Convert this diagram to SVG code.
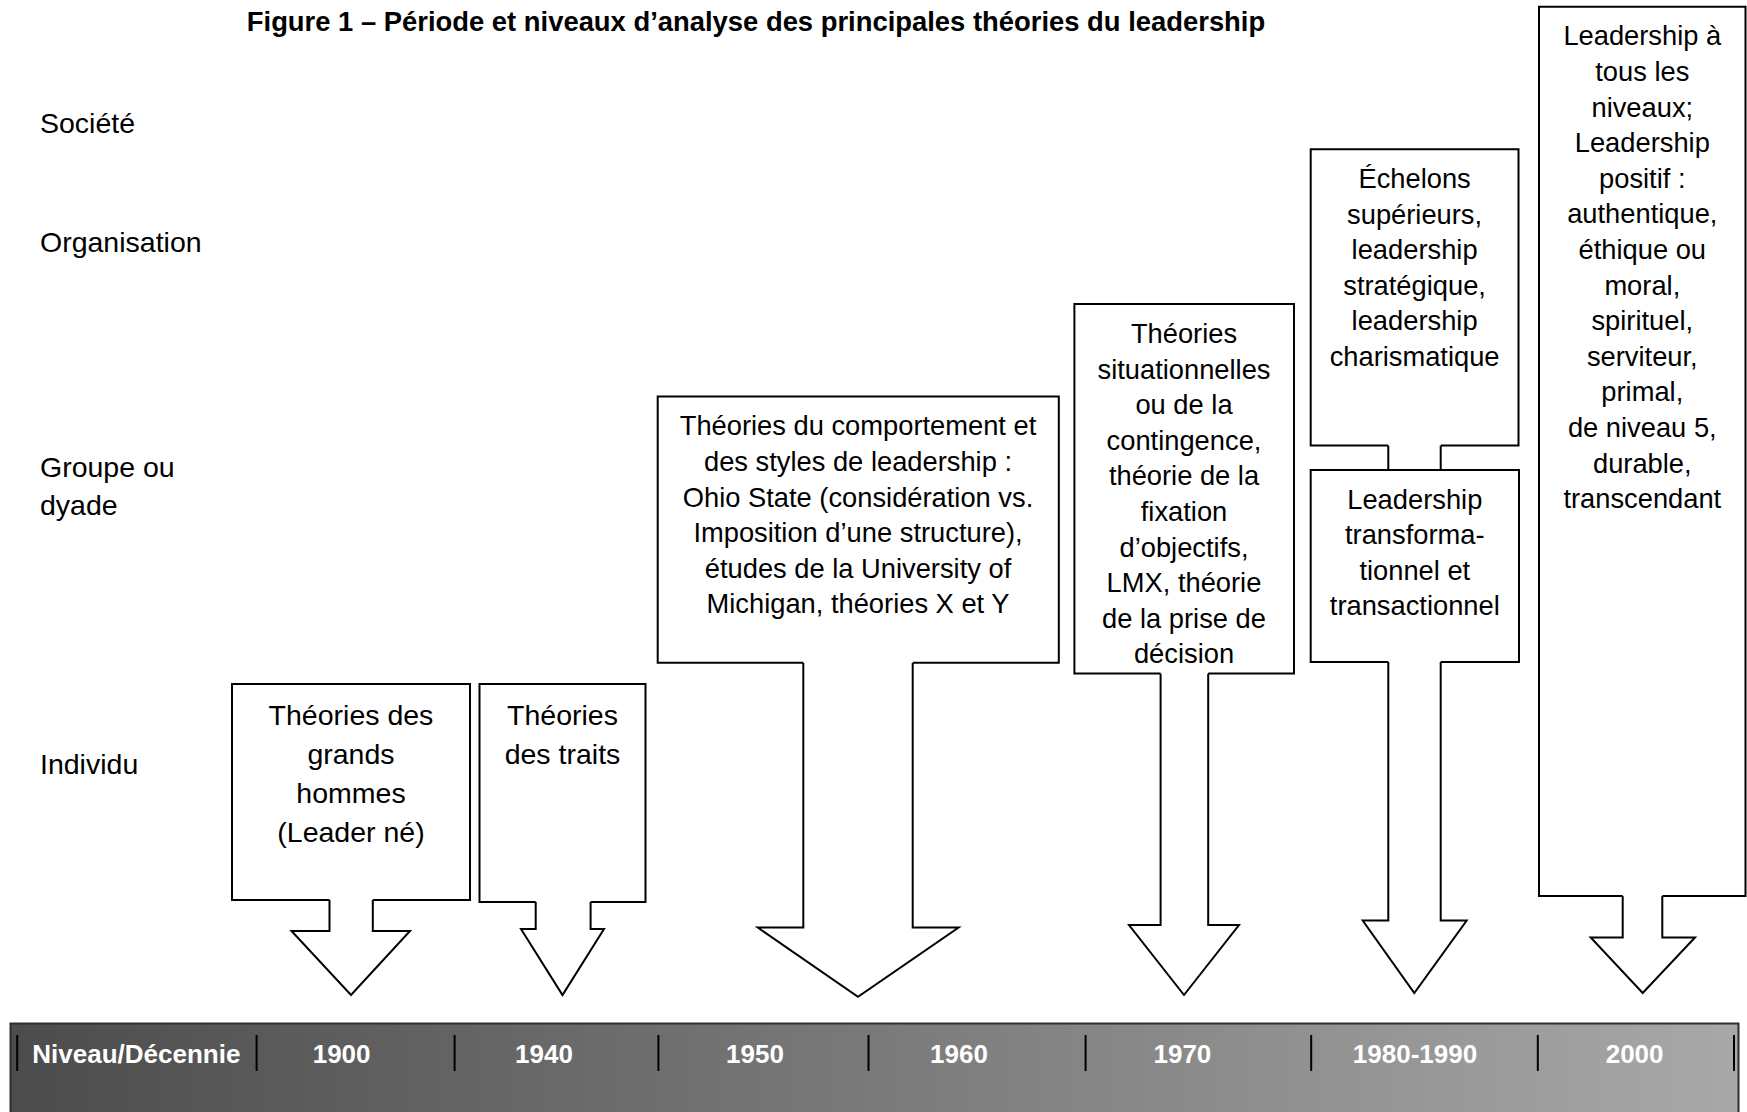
<svg xmlns="http://www.w3.org/2000/svg" width="1747" height="1112" viewBox="0 0 1747 1112">
<defs>
<linearGradient id="barGrad" x1="0" y1="0" x2="1" y2="0">
<stop offset="0" stop-color="#4c4c4c"/>
<stop offset="1" stop-color="#a8a8a8"/>
</linearGradient>
<style>
.box{fill:#fff;stroke:#000;stroke-width:2;stroke-linejoin:miter}
.arr{fill:#fff;stroke:#000;stroke-width:2;stroke-linejoin:miter}
.lnk{fill:none;stroke:#000;stroke-width:2}
text{font-family:"Liberation Sans",Arial,sans-serif;fill:#000}
.t{font-size:27.3px;text-anchor:middle}
.tb{font-size:28.5px;text-anchor:middle}
.lbl{font-size:28.5px}
.title{font-size:27.4px;font-weight:bold;text-anchor:middle}
.yr{font-size:26px;font-weight:bold;fill:#fff;text-anchor:middle}
.sep{stroke:#000;stroke-width:2}
</style>
</defs>
<rect width="1747" height="1112" fill="#fff"/>

<text class="title" x="756" y="31">Figure 1 – Période et niveaux d’analyse des principales théories du leadership</text>

<g id="levels">
<text class="lbl" x="40" y="133">Société</text>
<text class="lbl" x="40" y="252">Organisation</text>
<text class="lbl" x="40" y="477">Groupe ou</text>
<text class="lbl" x="40" y="514.5">dyade</text>
<text class="lbl" x="40" y="773.5">Individu</text>
</g>

<g id="connectors">
<path class="arr" d="M329.5,900 V931 H291.5 L351,995 L410,931 H372.8 V900"/>
<path class="arr" d="M535.7,902 V929 H521 L562.5,995 L604,929 H590.6 V902"/>
<path class="arr" d="M803.3,662.7 V927.6 H757.8 L858,996.8 L958.6,927.6 H912.7 V662.7"/>
<path class="arr" d="M1160.6,673.4 V925 H1129 L1184,995 L1239,925 H1208.2 V673.4"/>
<path class="lnk" d="M1388.3,445.5 V470 M1440.7,445.5 V470"/>
<path class="arr" d="M1388.3,662 V920.5 H1362.7 L1414.3,993 L1466.7,920.5 H1440.7 V662"/>
<path class="arr" d="M1622.7,896 V937.5 H1590.7 L1642.7,993 L1695,937.5 H1662.3 V896"/>
</g>

<g id="node-grands-hommes">
<path class="box" d="M329.5,900 H232 V684 H470 V900 H372.8"/>
<text class="tb" x="351" y="725.2">Théories des</text>
<text class="tb" x="351" y="764">grands</text>
<text class="tb" x="351" y="802.8">hommes</text>
<text class="tb" x="351" y="841.6">(Leader né)</text>
</g>

<g id="node-traits">
<path class="box" d="M535.7,902 H479.5 V684 H645.5 V902 H590.6"/>
<text class="tb" x="562.5" y="725.2">Théories</text>
<text class="tb" x="562.5" y="764">des traits</text>
</g>

<g id="node-comportement">
<path class="box" d="M803.3,662.7 H657.7 V396.6 H1058.8 V662.7 H912.7"/>
<text class="t" x="858" y="435.4">Théories du comportement et</text>
<text class="t" x="858" y="471">des styles de leadership :</text>
<text class="t" x="858" y="506.6">Ohio State (considération vs.</text>
<text class="t" x="858" y="542.2">Imposition d’une structure),</text>
<text class="t" x="858" y="577.8">études de la University of</text>
<text class="t" x="858" y="613.4">Michigan, théories X et Y</text>
</g>

<g id="node-situationnelles">
<path class="box" d="M1160.6,673.4 H1074.4 V304 H1294 V673.4 H1208.2"/>
<text class="t" x="1184" y="343">Théories</text>
<text class="t" x="1184" y="378.6">situationnelles</text>
<text class="t" x="1184" y="414.2">ou de la</text>
<text class="t" x="1184" y="449.8">contingence,</text>
<text class="t" x="1184" y="485.4">théorie de la</text>
<text class="t" x="1184" y="521">fixation</text>
<text class="t" x="1184" y="556.6">d’objectifs,</text>
<text class="t" x="1184" y="592.2">LMX, théorie</text>
<text class="t" x="1184" y="627.8">de la prise de</text>
<text class="t" x="1184" y="663.4">décision</text>
</g>

<g id="node-echelons">
<path class="box" d="M1388.3,445.5 H1310.7 V149.3 H1518.5 V445.5 H1440.7"/>
<text class="t" x="1414.6" y="188">Échelons</text>
<text class="t" x="1414.6" y="223.6">supérieurs,</text>
<text class="t" x="1414.6" y="259.2">leadership</text>
<text class="t" x="1414.6" y="294.8">stratégique,</text>
<text class="t" x="1414.6" y="330.4">leadership</text>
<text class="t" x="1414.6" y="366">charismatique</text>
</g>

<g id="node-transformationnel">
<path class="box" d="M1388.3,662 H1310.7 V470 H1519 V662 H1440.7"/>
<text class="t" x="1414.8" y="508.6">Leadership</text>
<text class="t" x="1414.8" y="544.2">transforma-</text>
<text class="t" x="1414.8" y="579.8">tionnel et</text>
<text class="t" x="1414.8" y="615.4">transactionnel</text>
</g>

<g id="node-2000">
<path class="box" d="M1622.7,896 H1539 V6.7 H1745.5 V896 H1662.3"/>
<text class="t" x="1642.3" y="45.3">Leadership à</text>
<text class="t" x="1642.3" y="80.9">tous les</text>
<text class="t" x="1642.3" y="116.5">niveaux;</text>
<text class="t" x="1642.3" y="152.1">Leadership</text>
<text class="t" x="1642.3" y="187.7">positif :</text>
<text class="t" x="1642.3" y="223.3">authentique,</text>
<text class="t" x="1642.3" y="258.9">éthique ou</text>
<text class="t" x="1642.3" y="294.5">moral,</text>
<text class="t" x="1642.3" y="330.1">spirituel,</text>
<text class="t" x="1642.3" y="365.7">serviteur,</text>
<text class="t" x="1642.3" y="401.3">primal,</text>
<text class="t" x="1642.3" y="436.9">de niveau 5,</text>
<text class="t" x="1642.3" y="472.5">durable,</text>
<text class="t" x="1642.3" y="508.1">transcendant</text>
</g>

<g id="timeline">
<rect x="10.5" y="1023.5" width="1728" height="100" fill="url(#barGrad)" stroke="#2e2e2e" stroke-width="2"/>
<line class="sep" x1="17.2" y1="1035" x2="17.2" y2="1071"/>
<line class="sep" x1="256.6" y1="1035" x2="256.6" y2="1071"/>
<line class="sep" x1="454.6" y1="1035" x2="454.6" y2="1071"/>
<line class="sep" x1="658.4" y1="1035" x2="658.4" y2="1071"/>
<line class="sep" x1="868.5" y1="1035" x2="868.5" y2="1071"/>
<line class="sep" x1="1085.6" y1="1035" x2="1085.6" y2="1071"/>
<line class="sep" x1="1311.2" y1="1035" x2="1311.2" y2="1071"/>
<line class="sep" x1="1537.8" y1="1035" x2="1537.8" y2="1071"/>
<line class="sep" x1="1734" y1="1035" x2="1734" y2="1071"/>
<text class="yr" x="136.3" y="1063">Niveau/Décennie</text>
<text class="yr" x="341.6" y="1063">1900</text>
<text class="yr" x="544" y="1063">1940</text>
<text class="yr" x="755" y="1063">1950</text>
<text class="yr" x="959" y="1063">1960</text>
<text class="yr" x="1182.4" y="1063">1970</text>
<text class="yr" x="1415" y="1063">1980-1990</text>
<text class="yr" x="1634.6" y="1063">2000</text>
</g>
</svg>
